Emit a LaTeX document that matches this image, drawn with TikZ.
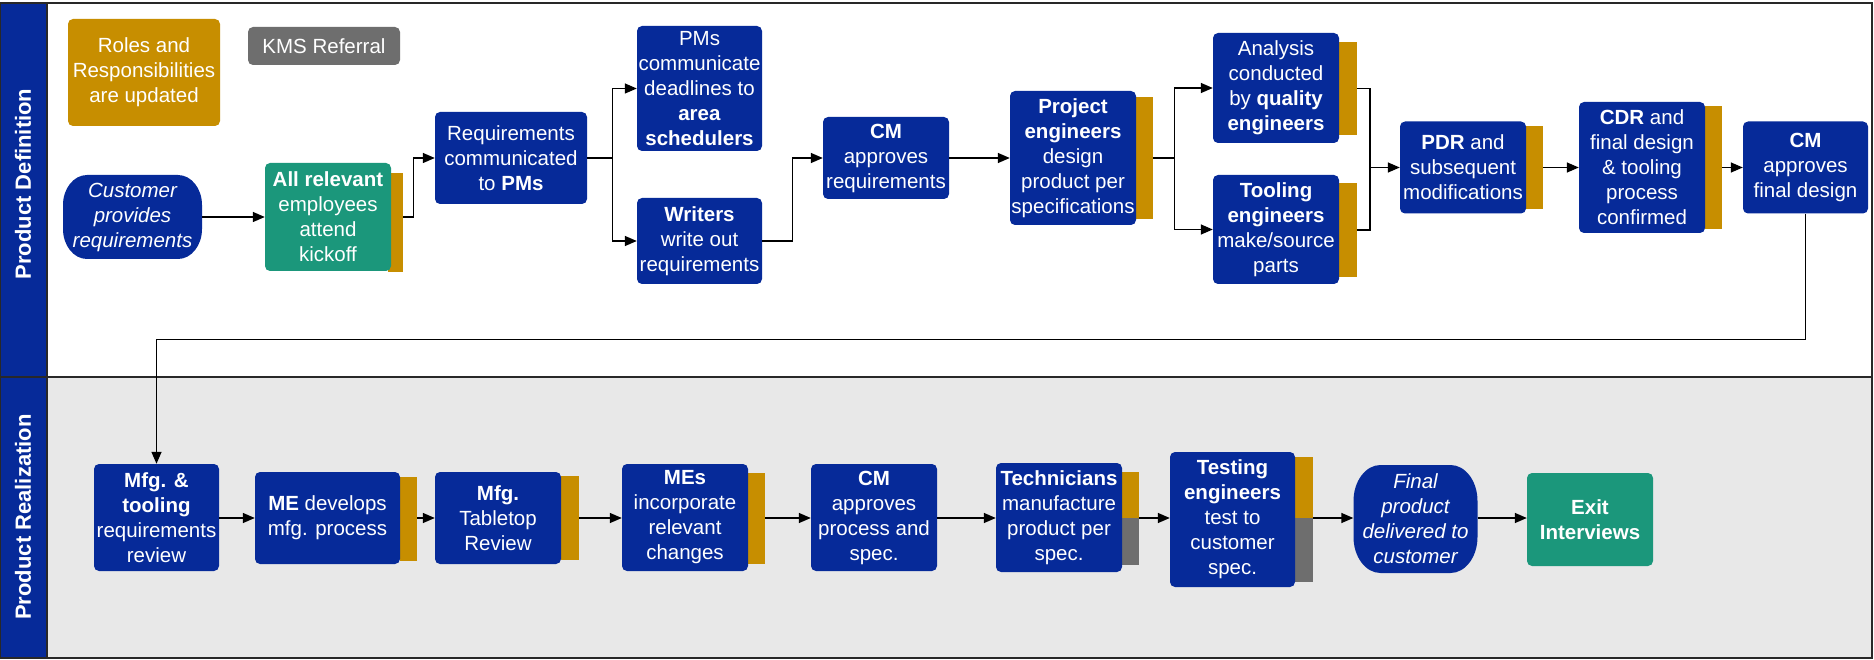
\documentclass[tikz,border=0pt]{standalone}
\usepackage{fontspec}
\setmainfont{Liberation Sans}
\usetikzlibrary{arrows.meta,calc}
\definecolor{kblue}{RGB}{6,42,153}
\definecolor{kgold}{RGB}{199,142,0}
\definecolor{kgreen}{RGB}{27,151,123}
\definecolor{kgray}{RGB}{110,110,110}
\definecolor{lanebg}{RGB}{232,232,232}
\definecolor{laneline}{RGB}{40,40,40}
% terminator shape with elliptical corners: cx cy w h rx ry
\newcommand\termfill[6]{%
 \pgfmathsetmacro\tXa{#1-#3/2}\pgfmathsetmacro\tXb{#1+#3/2}%
 \pgfmathsetmacro\tYa{#2-#4/2}\pgfmathsetmacro\tYb{#2+#4/2}%
 \pgfmathsetmacro\tRx{#5}\pgfmathsetmacro\tRy{#6}%
 \pgfmathsetmacro\tKx{0.448*#5}\pgfmathsetmacro\tKy{0.448*#6}%
 \fill[kblue] ({\tXa+\tRx},\tYa) -- ({\tXb-\tRx},\tYa)
   .. controls ({\tXb-\tKx},\tYa) and (\tXb,{\tYa+\tKy}) .. (\tXb,{\tYa+\tRy})
   -- (\tXb,{\tYb-\tRy})
   .. controls (\tXb,{\tYb-\tKy}) and ({\tXb-\tKx},\tYb) .. ({\tXb-\tRx},\tYb)
   -- ({\tXa+\tRx},\tYb)
   .. controls ({\tXa+\tKx},\tYb) and (\tXa,{\tYb-\tKy}) .. (\tXa,{\tYb-\tRy})
   -- (\tXa,{\tYa+\tRy})
   .. controls (\tXa,{\tYa+\tKy}) and ({\tXa+\tKx},\tYa) .. cycle;}
\begin{document}
\begin{tikzpicture}[x=1pt,y=-1pt,
  every node/.style={font=\fontsize{20.5}{25}\selectfont, text=white, align=center, inner sep=0pt},
  box/.style={fill=kblue, rounded corners=5pt},
  gbox/.style={fill=kgreen, rounded corners=5pt},
  term/.style={font=\fontsize{20.5}{25}\selectfont\itshape},
  sidebar/.style={fill=kgold, minimum width=17pt},
  splitbar/.style={minimum width=17pt},
  arr/.style={draw=black, line width=1.4pt, -{Triangle[length=12pt,width=10pt]}},
  conn/.style={draw=black, line width=1.4pt},
  lanelabel/.style={rotate=90, font=\fontsize{22}{26}\selectfont\bfseries},
]
\useasboundingbox (0,0) rectangle (1874,660);
% lanes
\fill[white] (0,0) rectangle (1874,660);
\fill[lanebg] (47,377) rectangle (1872,658);
\fill[kblue] (0,3) rectangle (47,658);
\draw[laneline, line width=1.2pt] (0.6,3) rectangle (1872,377);
\draw[laneline, line width=1.2pt] (0.6,377) rectangle (1872,658);
\draw[laneline, line width=1.2pt] (47,3) -- (47,658);
\node[lanelabel] (lab1) at (23,184) {Product Definition};
\node[lanelabel] (lab2) at (23,517) {Product Realization};

% ---------- top lane ----------
\node[fill=kgold, rounded corners=5pt, minimum width=152pt, minimum height=107pt] (roles) at (144,72.5) {Roles and\\Responsibilities\\are updated};
\node[fill=kgray, rounded corners=5pt, minimum width=152pt, minimum height=38pt] (kms) at (324,46) {KMS Referral};
\termfill{132.5}{217}{139}{84}{24}{30}
\node[term, minimum width=139pt, minimum height=84pt] (cust) at (132.5,217) {Customer\\provides\\requirements};

\node[sidebar, minimum width=15pt, minimum height=99pt] (allbar) at (395.5,222.5) {};
\node[gbox, minimum width=126pt, minimum height=108pt] (allrel) at (328,217) {\textbf{All relevant}\\employees\\attend\\kickoff};
\node[box, minimum width=152pt, minimum height=92pt] (req) at (511,158) {Requirements\\communicated\\to \textbf{PMs}};
\node[box, minimum width=125pt, minimum height=125pt] (pms) at (699.5,88.5) {PMs\\communicate\\deadlines to\\\textbf{area}\\\textbf{schedulers}};
\node[box, minimum width=125pt, minimum height=86pt] (writers) at (699.5,241) {\textbf{Writers}\\write out\\requirements};
\node[box, minimum width=126pt, minimum height=82pt] (cm1) at (886,158) {\textbf{CM}\\approves\\requirements};
\node[sidebar, minimum height=122pt] (projbar) at (1144.5,158) {};
\node[box, minimum width=126pt, minimum height=134pt] (proj) at (1073,158) {\textbf{Project}\\\textbf{engineers}\\design\\product per\\specifications};
\node[sidebar, minimum width=18pt, minimum height=93pt] (analbar) at (1348,88.5) {};
\node[box, minimum width=126pt, minimum height=110pt] (anal) at (1276,88) {Analysis\\conducted\\by \textbf{quality}\\\textbf{engineers}};
\node[sidebar, minimum width=18pt, minimum height=94pt] (toolbar) at (1348,230) {};
\node[box, minimum width=126pt, minimum height=109pt] (tool) at (1276,229.5) {\textbf{Tooling}\\\textbf{engineers}\\make/source\\parts};
\node[sidebar, minimum height=83pt] (pdrbar) at (1534.5,167.5) {};
\node[box, minimum width=126pt, minimum height=92pt] (pdr) at (1463,167.5) {\textbf{PDR} and\\subsequent\\modifications};
\node[sidebar, minimum height=123pt] (cdrbar) at (1713.5,167.5) {};
\node[box, minimum width=126pt, minimum height=131pt] (cdr) at (1642,167.5) {\textbf{CDR} and\\final design\\\& tooling\\process\\confirmed};
\node[box, minimum width=125pt, minimum height=92pt] (cm2) at (1805.5,167.5) {\textbf{CM}\\approves\\final design};

% ---------- bottom lane ----------
\coordinate (row) at (0,518);
\node[box, minimum width=125pt, minimum height=107pt] (mfg) at (156.5,517.5) {\textbf{Mfg. \&}\\\textbf{tooling}\\requirements\\review};
\node[sidebar, minimum height=84pt] (mebar) at (408.5,519) {};
\node[box, minimum width=145pt, minimum height=92pt] (me) at (327.5,518) {\textbf{ME} develops\\mfg. process};
\node[sidebar, minimum width=18pt, minimum height=84pt] (tabbar) at (570,518) {};
\node[box, minimum width=126pt, minimum height=92pt] (tab) at (498,518) {\textbf{Mfg.}\\Tabletop\\Review};
\node[sidebar, minimum height=91pt] (mesbar) at (756.5,518.5) {};
\node[box, minimum width=126pt, minimum height=107pt] (mes) at (685,517.5) {\textbf{MEs}\\incorporate\\relevant\\changes};
\node[box, minimum width=126pt, minimum height=107pt] (cm3) at (874,517.5) {\textbf{CM}\\approves\\process and\\spec.};
\node[splitbar, minimum height=93pt] (techbar) at (1130.5,518.5) {};
\fill[kgold] (techbar.north west) rectangle (techbar.north east |- row);
\fill[kgray] (techbar.south west) rectangle (techbar.south east |- row);
\node[box, minimum width=126pt, minimum height=109pt] (tech) at (1059,517.5) {\textbf{Technicians}\\manufacture\\product per\\spec.};
\node[splitbar, minimum width=18pt, minimum height=125pt] (testbar) at (1304,519.5) {};
\fill[kgold] (testbar.north west) rectangle (testbar.north east |- row);
\fill[kgray] (testbar.south west) rectangle (testbar.south east |- row);
\node[box, minimum width=125pt, minimum height=135pt] (test) at (1232.5,519.5) {\textbf{Testing}\\\textbf{engineers}\\test to\\customer\\spec.};
\termfill{1415.5}{519}{124}{108}{27}{36}
\node[term, minimum width=124pt, minimum height=108pt] (final) at (1415.5,519) {Final\\product\\delivered to\\customer};
\node[gbox, minimum width=126pt, minimum height=93pt] (exit) at (1590,519.5) {\textbf{Exit}\\\textbf{Interviews}};

% ---------- connectors ----------
\draw[arr] (cust.east) -- (allrel.west);
\draw[arr] (allbar.east |- allrel.east) -- ++(10,0) |- (req.west);
\draw[arr] (req.east) -- ++(25,0) |- (pms.west);
\draw[arr] (req.east) -- ++(25,0) |- (writers.west);
\draw[arr] (writers.east) -- ++(30,0) |- (cm1.west);
\draw[arr] (cm1.east) -- (proj.west);
\draw[arr] (projbar.east) -- ++(21,0) |- (anal.west);
\draw[arr] (projbar.east) -- ++(21,0) |- (tool.west);
\coordinate (mj) at (1370,167.5);
\draw[conn] (analbar.east) -| (mj);
\draw[conn] (toolbar.east) -| (mj);
\draw[arr] (mj) -- (pdr.west);
\draw[arr] (pdrbar.east) -- (pdrbar.east -| cdr.west);
\draw[arr] (cdrbar.east) -- (cdrbar.east -| cm2.west);
\draw[arr] (cm2.south) -- ++(0,126) -| (mfg.north);

\draw[arr] (mfg.east |- row) -- (me.west |- row);
\draw[arr] (mebar.east |- row) -- (tab.west |- row);
\draw[arr] (tabbar.east |- row) -- (mes.west |- row);
\draw[arr] (mesbar.east |- row) -- (cm3.west |- row);
\draw[arr] (cm3.east |- row) -- (tech.west |- row);
\draw[arr] (techbar.east |- row) -- (test.west |- row);
\draw[arr] (testbar.east |- row) -- (final.west |- row);
\draw[arr] (final.east |- row) -- (exit.west |- row);
\end{tikzpicture}
\end{document}
